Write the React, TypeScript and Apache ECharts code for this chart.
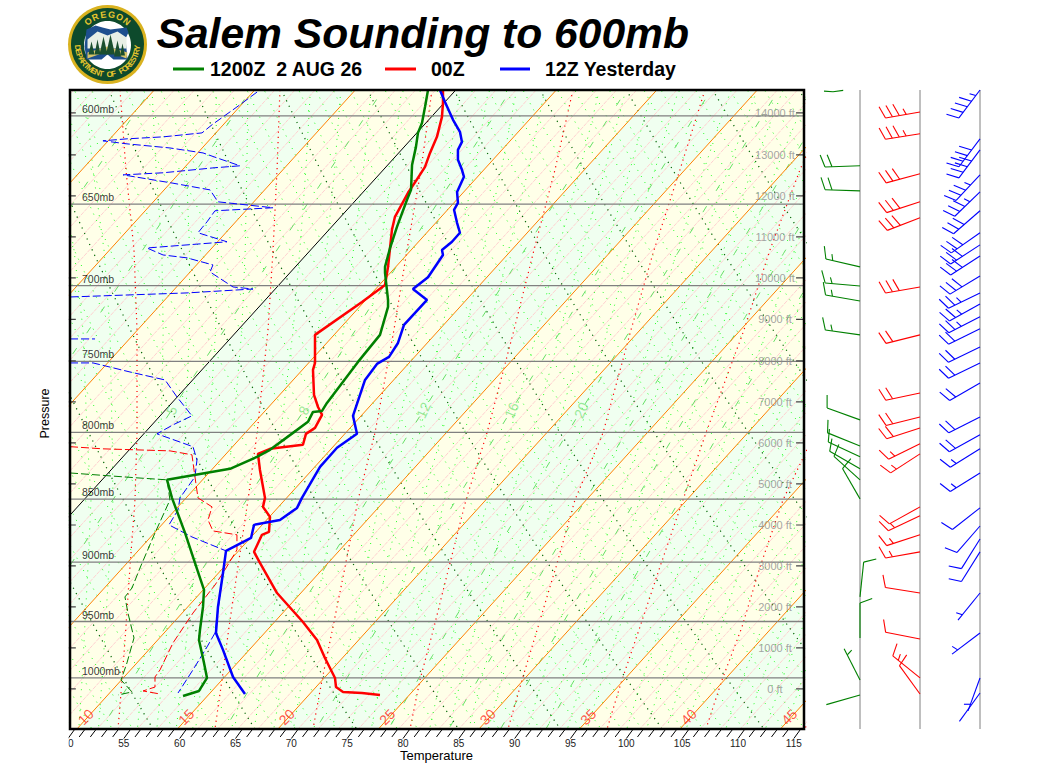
import React, { useEffect, useRef } from "react";
import * as echarts from "echarts";

// ---- axis ranges
const P_TOP = 586;
const P_BOTTOM = 1047.5;
const X_MIN = 50;
const X_MAX = 116;

// ---- soundings: [axis temperature reading (F), pressure (mb)]
const tempGreen = [[82.24,586],[81.97,595.1],[81.7,603.8],[81.34,609.3],[81.16,617.1],[80.81,627.3],[80.72,641.7],[80.36,647.5],[79.46,663.6],[78.84,676.5],[78.39,688.2],[78.39,692],[78.66,709.2],[78.66,713.7],[77.94,732.1],[75.97,750.3],[73.19,778.8],[72.75,784.5],[71.94,785.2],[71.49,792.3],[70.15,800.3],[68.09,812.7],[66.92,818],[64.51,826.9],[58.87,835.2],[59.31,849],[60.48,876.5],[61.37,900.7],[62.18,923.1],[62.09,937.5],[61.82,957.3],[61.73,966.1],[62.18,986.4],[62.45,1000],[61.73,1011.9],[60.3,1016.5]];
const tempRed = [[83.58,586],[83.58,592.9],[83.49,600.5],[83.04,611.5],[82.42,620.5],[81.97,628.4],[81.34,634.7],[80.45,643.4],[79.28,657.6],[79.01,665.4],[78.84,676.5],[78.66,688.2],[78.39,699.6],[76.33,710.5],[72.12,732.1],[72.12,751],[71.94,755.8],[72.03,773.2],[72.39,781.7],[72.75,787.3],[72.12,796.7],[71.31,801],[71.04,809],[68.09,812],[67.01,815.7],[67.19,827.7],[67.64,849],[67.46,856],[68.09,863.8],[68,875.7],[67.37,878],[66.66,891.7],[67.19,900.7],[68.72,925.7],[71.04,950.4],[72.3,966.1],[73.01,982],[73.91,1000],[74,1008.3],[74.63,1012.8],[76.33,1013.8],[77.94,1015.6]];
const tempBlue = [[83.31,586],[83.76,592.4],[84.48,602.1],[85.1,608.7],[85.28,614.3],[84.92,618.8],[84.92,624.4],[85.28,630.1],[85.46,634.1],[84.84,642.9],[84.92,649.3],[84.57,653.4],[84.84,661.2],[85.1,667.2],[84.39,672.7],[83.49,677.7],[83.58,680.8],[82.24,694.7],[80.89,702.2],[82.15,709.2],[80.09,725.5],[79.55,737.5],[78.75,746.9],[77.67,751.7],[76.6,762.7],[75.52,788],[75.88,801],[74.09,811.2],[72.57,825.4],[70.95,849],[70.51,856.8],[68.98,866.2],[66.66,870.1],[66.39,880.5],[64.15,890.9],[63.88,909],[63.43,937.5],[63.25,960],[63.88,974.8],[64.78,999.1],[65.85,1014.7]];
const dewBlue = [[66.93,587.1],[65.13,595.1],[63.88,600.5],[62.9,604.8],[62,609.3],[58.51,611.5],[55.28,612.6],[53.13,613.7],[55.28,615.4],[59.13,617.7],[62.09,620.5],[63.34,623.3],[65.4,627.8],[62.98,629],[58.51,631.8],[54.93,633],[59.4,637.8],[62.72,641.7],[63.43,648.7],[68.36,652.2],[63.16,654],[62.45,660.6],[62,664.2],[61.64,667.2],[64.24,672.7],[57.07,676.5],[58.51,680.8],[60.66,682.6],[62.98,687],[62.72,691.4],[64.78,700.9],[66.57,702.2],[60.66,704.7],[50.18,707.3],[null,null],[50.18,734.8],[52.42,734.8],[null,null],[50.18,751],[52.24,751],[55.55,757.2],[58.69,762.7],[59.76,774.6],[61.1,788],[59.4,794.5],[57.97,801],[61.19,810.4],[61.55,820.2],[61.37,832.9],[60.03,849],[59.85,858.4],[59.04,870.1],[61.1,879.7],[64.15,890.9],[63.88,909],[63.16,960],[62.45,972.2],[61.19,992.7],[59.85,1013.8]];
const dewRed = [[50.18,810.4],[53.13,812],[59.13,813.5],[61.1,816.4],[61.37,832.9],[61.64,849],[62.9,856],[62.54,866.2],[62.98,874.9],[65.13,878],[65.13,890.1],[63.88,909],[63.16,919],[61.19,942.7],[59.4,968.7],[58.24,992.7],[57.79,999.1],[57.79,1008.3],[56.72,1011.9],[58.24,1014.7]];
const dewGreen = [[50.18,830],[56.18,833.7],[58.87,835.2],[59.13,850.6],[57.79,876.5],[56.45,904.8],[55.73,921.5],[55.1,929],[55.37,942.7],[55.91,964.3],[55.28,986.4],[54.75,1001.8],[55.73,1012.8],[54.48,1015.6]];

// ---- wind barbs: [column, pressure (mb), direction (deg), speed (kt)]
const barbsGreen = [[1,627.8,268,20],[1,642.3,272,20],[1,688.2,283,15],[1,700.3,275,15],[1,709.9,280,15],[1,732.1,278,15],[1,790.9,290,10],[1,809.9,292,10],[1,817.9,295,10],[1,826.9,300,10],[1,835.2,312,10],[1,849.8,330,10],[1,929,6,10],[1,964.3,0,10],[1,1001.8,333,5],[1,1015.6,254,0]];
const barbsRed = [[2,597.8,260,35],[2,609.8,261,35],[2,632.4,255,30],[2,648.7,252,30],[2,658.2,249,30],[2,700.9,260,30],[2,732.1,256,20],[2,771.8,258,20],[2,788.8,256,20],[2,796.7,252,20],[2,808.3,244,15],[2,815.7,237,15],[2,856,241,10],[2,863,245,15],[2,878,252,15],[2,891.7,260,15],[2,925.7,279,10],[2,965.2,281,10],[2,1000,309,15],[2,1014.7,324,10]];
const barbsBlue = [[3,586,217,45],[3,612.6,217,40],[3,618.8,217,40],[3,633,223,35],[3,642.9,226,35],[3,654,229,30],[3,667.2,235,30],[3,674.6,237,30],[3,681.4,237,30],[3,694,239,30],[3,704.7,244,25],[3,711.8,241,25],[3,720.2,243,25],[3,728.1,244,20],[3,740.2,244,20],[3,751,244,20],[3,764.8,240,20],[3,788.8,243,20],[3,801.7,241,20],[3,811.9,238,15],[3,830,238,15],[3,856.8,232,10],[3,871,221,10],[3,881.3,212,10],[3,891.7,212,10],[3,925.7,219,5],[3,960,233,5],[3,1000,200,5],[3,1013.8,216,0]];
// the piece of a green barb cut off by the top of the panel: [column position, pressure]
const greenClippedBarb = [[0.4,586.6],[0.55,586.9],[0.72,586.2]];

// ---- moist adiabats (red dotted): axis reading at each moistLevels pressure
const moistLevels = [586,630.1,677.7,728.8,800.3,850.6,904,954.7,1001.8,1047.5];
const moistLines = [
  [38.99,40.42,42.48,44.09,44.99,46.15,46.15,45.97,45.88,45.7],
  [54.66,55.19,55.91,56.18,56.18,56,55.55,55.19,54.84,54.48],
  [68.98,68.72,68.36,67.91,66.93,66.12,65.22,64.42,63.79,63.16],
  [82.6,81.61,80.36,79.19,77.49,75.97,74.81,73.73,72.75,71.94],
  [95.22,93.61,91.73,89.94,87.52,85.64,84.12,82.78,81.52,80.63],
  [107.04,104.8,102.48,100.42,97.91,95.4,93.7,92.09,90.66,89.4],
  [118.68,115.55,112.86,110.54,107.13,105.07,103.01,101.22,99.61,98.27],
  [130.77,127.19,123.88,120.92,116.89,114.03,111.97,110.36,108.57,107.13],
  [143.31,138.83,134.8,131.22,126.48,123.61,121.19,119.4,117.52,116],
];

// ---- tick and label lists
const pressureLevels = [600,650,700,750,800,850,900,950,1000];
const heightLabels = ["0 ft","1000 ft","2000 ft","3000 ft","4000 ft","5000 ft","6000 ft","7000 ft","8000 ft","9000 ft","10000 ft","11000 ft","12000 ft","13000 ft","14000 ft"];
const heightPressures = [1010,973.1,937.5,903.2,870.2,838.3,807.6,778.1,749.6,721.8,695.1,669.7,645.2,621.6,598.3];
const isothermLabels = [10,15,20,25,30,35,40,45];
const mixingRatioLabels = [5,8,12,16,20];
const mixingRatios = [1,2,3,5,8,12,16,20,24,28,32];
const legendNames = ["1200Z  2 AUG 26","00Z","12Z Yesterday"];

const SKEW = 89.4;
// the y axes are linear in log10(pressure)
const Y = (p: number) => Math.log10(p);
const xT = (tC: number, p: number) => 50.8 + (tC - 10) * 1.8 + SKEW * Math.log(P_BOTTOM / p);
const dryT = (theta: number, p: number) => theta * Math.pow(p / 1000, 0.286) - 273.15;
const mixT = (w: number, p: number) => {
  const l = Math.log10((w * p) / (622 + w) / 6.11);
  return (237.3 * l) / (7.5 - l);
};
const range = (a: number, b: number, s: number) => {
  const r: number[] = [];
  for (let v = a; v <= b + 1e-9; v += s) r.push(v);
  return r;
};
const pSteps = range(580, 1060, 20);
const toAxis = (d: any[]) => d.map((q) => (q[1] == null ? [null, null] : [q[0], Y(q[1])]));
const join = (segs: number[][][]) => {
  const out: any[] = [];
  segs.forEach((s) => { out.push(...s); out.push([null, null]); });
  return out;
};
const lineSeries = (name: string, data: any[], color: string, width: number, dash: any, z: number, clip = true) => ({
  type: "line", name, data: toAxis(data), xAxisIndex: 0, yAxisIndex: 0, symbol: "none", showSymbol: false, silent: true,
  connectNulls: false, clip, z, lineStyle: { color, width, type: dash },
});
const labelSeries = (name: string, data: any[], label: any, z: number) => ({
  type: "scatter", name, data: data.map((d) => ({ name: d.name, value: [d.value[0], Y(d.value[1])] })),
  xAxisIndex: 0, yAxisIndex: 0, symbolSize: 0, silent: true, z, clip: false,
  label: { show: true, formatter: (p: any) => p.name, ...label },
});

const bandRender = (params: any, api: any) => {
  const t = api.value(0);
  const pts = [[xT(t, P_TOP), Y(P_TOP)], [xT(t + 5, P_TOP), Y(P_TOP)], [xT(t + 5, P_BOTTOM), Y(P_BOTTOM)], [xT(t, P_BOTTOM), Y(P_BOTTOM)]].map((q) => api.coord(q));
  return { type: "polygon", shape: { points: pts }, style: { fill: t % 10 === 0 ? "#f0fff0" : "#ffffe8" } };
};

const barbRender = (color: string) => (params: any, api: any) => {
  const [cx, cy] = api.coord([api.value(0), api.value(1)]);
  const dir = (api.value(2) * Math.PI) / 180;
  const speed = api.value(3);
  const L = 35, SP = 7, FULL = 13, HALF = 6.5;
  const tx = cx + L * Math.sin(dir), ty = cy - L * Math.cos(dir);
  const a = Math.atan2(ty - cy, tx - cx);
  const fa = a + (70 * Math.PI) / 180;
  const back = [Math.cos(a + Math.PI), Math.sin(a + Math.PI)];
  const style = { stroke: color, lineWidth: 1.1, fill: "none" };
  const children: any[] = [{ type: "line", shape: { x1: cx, y1: cy, x2: tx, y2: ty }, style }];
  let rem = speed, pos = speed < 10 ? SP : 0;
  while (rem >= 5) {
    const len = rem >= 10 ? FULL : HALF;
    const px = tx + back[0] * pos, py = ty + back[1] * pos;
    children.push({ type: "line", shape: { x1: px, y1: py, x2: px + len * Math.cos(fa), y2: py + len * Math.sin(fa) }, style });
    rem -= rem >= 10 ? 10 : 5;
    pos += SP;
  }
  return { type: "group", children };
};
const barbSeries = (name: string, data: number[][], color: string) => ({
  type: "custom", name, data: data.map((b) => [b[0], Y(b[1]), b[2], b[3]]), xAxisIndex: 1, yAxisIndex: 1, silent: true, z: 20,
  encode: { x: 0, y: 1 }, renderItem: barbRender(color),
});

const buildLogo = () => {
  const cx = 107.5, cy = 44.5;
  const gold = "#e6c52e", dark = "#0d4a2c";
  const kids: any[] = [
    { type: "circle", shape: { cx, cy, r: 39.5 }, style: { fill: "#d9b21f" } },
    { type: "circle", shape: { cx, cy, r: 36.5 }, style: { fill: dark } },
    { type: "ellipse", shape: { cx, cy: cy + 0.5, rx: 23.5, ry: 24 }, style: { fill: "#ffffff" } },
    { type: "polygon", shape: { points: [[-21,-15],[-12,-19],[-5,-17],[3,-15],[19,-17],[21,-12],[18,-6],[20,15],[6,15],[0,10],[-6,15],[-21,15],[-23,2]].map((q) => [cx + q[0], cy + q[1]]) }, style: { fill: "#1e4f8e" } },
    { type: "polygon", shape: { points: [[-20,-5],[-10,-13],[0,-9],[10,-13],[19,-7],[19,4],[-20,4]].map((q) => [cx + q[0], cy + q[1]]) }, style: { fill: "#e8efe6" } },
    { type: "polygon", shape: { points: [[-20,8],[0,2],[20,8],[19,14],[6,9],[0,6],[-6,9],[-20,14]].map((q) => [cx + q[0], cy + q[1]]) }, style: { fill: "#d8c46a" } },
  ];
  [[-16,-3,6,9],[-10,-5,6,11],[-4,-8,8,14],[3,-10,9,16],[10,-4,7,12],[15,-1,5,8]].forEach((t) => {
    const x = cx + t[0], top = cy + t[1];
    kids.push({ type: "polygon", shape: { points: [[x, top], [x + t[2] / 2, top + t[3] + 4], [x - t[2] / 2, top + t[3] + 4]] }, style: { fill: "#1b4f2e" } });
  });
  const top = "OREGON", bottom = "DEPARTMENT OF FORESTRY";
  top.split("").forEach((c, i) => {
    const phi = ((-40 + (80 * i) / (top.length - 1)) * Math.PI) / 180;
    kids.push({ type: "text", x: cx + 30 * Math.sin(phi), y: cy - 30 * Math.cos(phi), rotation: -phi,
      style: { text: c, fill: gold, font: "bold 9px 'Liberation Sans'", align: "center", verticalAlign: "middle" } });
  });
  bottom.split("").forEach((c, i) => {
    const deg = 264 - (168 * i) / (bottom.length - 1);
    const phi = (deg * Math.PI) / 180;
    kids.push({ type: "text", x: cx + 30 * Math.sin(phi), y: cy - 30 * Math.cos(phi), rotation: -(phi - Math.PI),
      style: { text: c, fill: gold, font: "bold 8px 'Liberation Sans'", align: "center", verticalAlign: "middle" } });
  });
  return kids;
};

const buildOption = () => {
  const isoT = range(-40, 60, 5);
  const pinkT = range(-40, 60, 1).filter((t) => t % 5 !== 0);
  const thetas = range(275, 345, 1).map((v) => v + 0.15);
  const majorTheta = (v: number) => Math.round(v - 0.15) % 5 === 3;
  const drySeg = (th: number) => pSteps.map((p) => [xT(dryT(th, p), p), p]);
  const moistMinor: number[][][] = [];
  for (let i = 0; i + 1 < moistLines.length; i++) {
    [0.2, 0.4, 0.6, 0.8].forEach((f) => {
      moistMinor.push(moistLevels.map((p, k) => [moistLines[i][k] + f * (moistLines[i + 1][k] - moistLines[i][k]), p]));
    });
  }
  const ticks: number[][][] = range(X_MIN, X_MAX - 1, 1).map((x) =>
    x % 5 === 0 ? [[x + 0.62, P_BOTTOM], [x, 1056.6]] : [[x + 0.54, P_BOTTOM], [x, 1055.1]]
  );
  const heightTicks: number[][][] = [];
  heightPressures.forEach((p) => {
    heightTicks.push([[X_MIN, p], [50.7, p]]);
    heightTicks.push([[115.2, p], [X_MAX, p]]);
  });
  const iso = (t: number) => [[xT(t, P_TOP), P_TOP], [xT(t, P_BOTTOM), P_BOTTOM]];

  const series: any[] = [
    { type: "custom", name: "bands", data: isoT.map((t) => [t]), xAxisIndex: 0, yAxisIndex: 0, clip: true, silent: true, z: 1, renderItem: bandRender, encode: { x: -1, y: -1 } },
    lineSeries("pink", join(pinkT.map(iso)), "#ffd0d0", 1, [4, 1], 2),
    lineSeries("dryMinor", join(thetas.filter((v) => !majorTheta(v)).map(drySeg)), "#22ff22", 1, [1, 6], 3),
    lineSeries("moistMinor", join(moistMinor), "#22ff22", 1, [1, 6], 3),
    lineSeries("mixing", join(mixingRatios.map((w) => pSteps.map((p) => [xT(mixT(w, p), p), p]))), "#66e066", 1, [7, 18], 4),
    lineSeries("dryMajor", join(thetas.filter(majorTheta).map(drySeg)), "#006600", 1.2, [1.2, 4.8], 5),
    lineSeries("moist", join(moistLines.map((l) => l.map((x, k) => [x, moistLevels[k]]))), "#ff0000", 1.2, [1.2, 4], 6),
    lineSeries("isotherm", join(isoT.filter((t) => t !== 0).map(iso)), "#ff8000", 1, "solid", 7),
    lineSeries("isothermZero", iso(0), "#000000", 1, "solid", 7),
    lineSeries("pressure", join(pressureLevels.map((p) => [[X_MIN, p], [X_MAX, p]])), "#808080", 1.3, "solid", 8),
    lineSeries("heightTicks", join(heightTicks), "#444444", 1.2, "solid", 9),
    lineSeries("hash", join(ticks), "#000000", 1, "solid", 9, false),
    labelSeries("pressureLabels", pressureLevels.map((p) => ({ name: `${p}mb`, value: [51.25, p] })),
      { position: "right", distance: 0, offset: [0, -7], color: "#000000", fontSize: 10.5 }, 10),
    labelSeries("heightLabels", heightPressures.map((p, i) => ({ name: heightLabels[i], value: [113.31, p] })),
      { position: "inside", color: "#8c8c8c", fontSize: 11 }, 10),
    labelSeries("isothermLabels", isothermLabels.map((t) => ({ name: `${t}`, value: [xT(t, 1036) - 0.2, 1036] })),
      { position: "inside", rotate: 45, color: "#ff2a1a", fontSize: 14 }, 10),
    labelSeries("mixingLabels", mixingRatioLabels.map((w) => ({ name: `${w}`, value: [xT(mixT(w, 784), 784), 784] })),
      { position: "inside", rotate: 65, color: "#80e480", fontSize: 14 }, 10),
    lineSeries("dewGreen", dewGreen, "#008000", 1, [8, 3], 11),
    lineSeries("dewRed", dewRed, "#ff0000", 1, [8, 3], 11),
    lineSeries("dewBlue", dewBlue, "#0000ff", 1, [8, 3], 11),
    lineSeries(legendNames[0], tempGreen, "#008000", 2.5, "solid", 13),
    lineSeries(legendNames[1], tempRed, "#ff0000", 2.5, "solid", 12),
    lineSeries(legendNames[2], tempBlue, "#0000ff", 2.5, "solid", 12),
    {
      type: "line", name: "columns", xAxisIndex: 1, yAxisIndex: 1, symbol: "none", silent: true, z: 5, connectNulls: false,
      data: toAxis(join([1, 2, 3].map((c) => [[c, P_TOP], [c, P_BOTTOM]]))), lineStyle: { color: "#808080", width: 1 },
    },
    {
      type: "line", name: "greenClippedBarb", xAxisIndex: 1, yAxisIndex: 1, symbol: "none", silent: true, z: 20, clip: false,
      data: toAxis(greenClippedBarb), lineStyle: { color: "#008000", width: 1.1 },
    },
    barbSeries("barbsGreen", barbsGreen, "#008000"),
    barbSeries("barbsRed", barbsRed, "#ff0000"),
    barbSeries("barbsBlue", barbsBlue, "#0000ff"),
  ];

  const legendBits: any[] = [];
  [[173, 204, "#008000", 210, 0], [385, 416, "#ff0000", 431, 1], [500, 530, "#0000ff", 545, 2]].forEach((l: any) => {
    legendBits.push({ type: "line", shape: { x1: l[0], y1: 69, x2: l[1], y2: 69 }, style: { stroke: l[2], lineWidth: 3 } });
    legendBits.push({ type: "text", x: l[3], y: 69, style: { text: legendNames[l[4]], fill: "#000", font: "bold 19.5px 'Liberation Sans'", align: "left", verticalAlign: "middle" } });
  });

  return {
    animation: false,
    backgroundColor: "#ffffff",
    textStyle: { fontFamily: "'Liberation Sans'" },
    grid: [
      { left: 68, top: 90, width: 737, height: 639, outerBoundsMode: "none" },
      { left: 800, top: 90, width: 180, height: 639, outerBoundsMode: "none" },
    ],
    xAxis: [
      {
        type: "value", gridIndex: 0, min: X_MIN, max: X_MAX, interval: 5, splitLine: { show: false },
        axisLine: { show: false }, axisTick: { show: false },
        axisLabel: { color: "#222", fontSize: 10, margin: 9, showMinLabel: true, showMaxLabel: false },
        name: "Temperature", nameLocation: "middle", nameGap: 20, nameMoveOverlap: false,
        nameTextStyle: { color: "#000", fontSize: 13 },
      },
      { type: "value", gridIndex: 1, min: 0, max: 3, show: false, splitLine: { show: false } },
    ],
    yAxis: [
      {
        type: "value", gridIndex: 0, inverse: true, min: Y(P_TOP), max: Y(P_BOTTOM), splitLine: { show: false },
        axisLine: { show: false }, axisTick: { show: false }, axisLabel: { show: false },
        name: "Pressure", nameLocation: "middle", nameGap: 17, nameRotate: 90,
        nameTextStyle: { color: "#000", fontSize: 12.5, padding: [0, 8, 0, 0] },
      },
      { type: "value", gridIndex: 1, inverse: true, min: Y(P_TOP), max: Y(P_BOTTOM), show: false, splitLine: { show: false } },
    ],
    series,
    graphic: [
      {
        type: "group", z: 100, silent: true,
        children: [
          { type: "rect", shape: { x: 50, y: 84, width: 18.8, height: 651 }, style: { fill: "#fff" }, z: 100 },
          { type: "rect", shape: { x: 50, y: 735, width: 18.6, height: 16 }, style: { fill: "#fff" }, z: 100 },
          { type: "rect", shape: { x: 70, y: 90, width: 734, height: 639 }, style: { fill: "none", stroke: "#000", lineWidth: 2.5 }, z: 101 },
          ...buildLogo().map((k) => ({ ...k, z: 102 })),
          { type: "text", x: 156.5, y: 33, z: 102, style: { text: "Salem Sounding to 600mb", fill: "#000", font: "italic bold 42.6px 'Liberation Sans'", align: "left", verticalAlign: "middle" } },
          ...legendBits.map((k) => ({ ...k, z: 102 })),
        ],
      },
    ],
  };
};

export default function App() {
  const ref = useRef<HTMLDivElement>(null);
  useEffect(() => {
    if (!ref.current) return;
    document.body.style.margin = "0";
    const chart = echarts.init(ref.current, undefined, { renderer: "svg" });
    chart.setOption(buildOption() as any);
    return () => chart.dispose();
  }, []);
  return <div ref={ref} style={{ position: "absolute", left: 0, top: 0, width: 1060, height: 768, whiteSpace: "pre" }} />;
}
